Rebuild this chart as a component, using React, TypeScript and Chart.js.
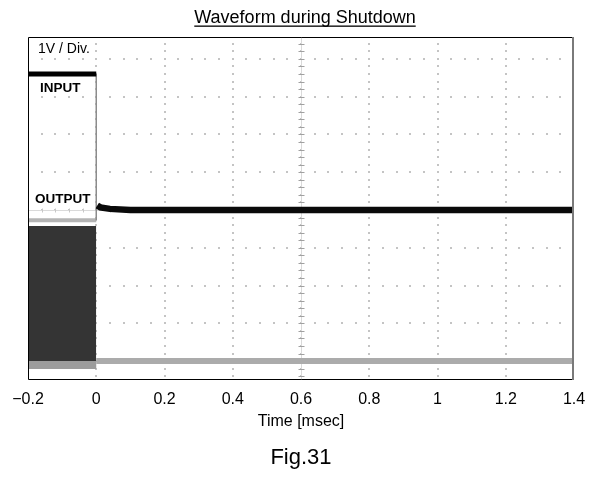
import React, { useEffect, useRef } from 'react';
import { Chart, registerables } from 'chart.js';

Chart.register(...registerables);

const FONT = "'Liberation Sans', Arial, Helvetica, sans-serif";

// Axis ticks (time in msec) and graticule divisions (1 V / div)
const timeTicks = [-0.2, 0, 0.2, 0.4, 0.6, 0.8, 1.0, 1.2, 1.4];
const timeTickLabels = ['−0.2', '0', '0.2', '0.4', '0.6', '0.8', '1', '1.2', '1.4'];
const voltDivs = [0, 1, 2, 3, 4, 5, 6, 7, 8];
const centerTime = 0.6;
const centerVolt = 4;

// INPUT trace
const inputHighTime = [-0.2, 0];
const inputHighVolt = [7.6, 7.6];
const inputEdgeTime = [0, 0];
const inputEdgeVolt = [7.6, 3.72];
const inputLowTime = [0, 1.4];
const inputLowVolt = [0, 0];

// OUTPUT trace
const outputSwitchTime = [-0.2, 0];
const outputSwitchVolt = [3.58, 3.58];
const outputSwitchBase = 0;
const outputPeakTime = [-0.2, 0];
const outputPeakVolt = [3.73, 3.73];
const outputFloorTime = [-0.2, 0];
const outputFloorVolt = [-0.1, -0.1];
const outputAfterTime = [0.003, 0.012, 0.04, 0.1, 1.4];
const outputAfterVolt = [4.12, 4.07, 4.03, 4.0, 4.0];

const pts = (t: number[], v: number[]) => t.map((tt, i) => ({ x: tt, y: v[i] }));

const scopePlugin = {
  id: 'scope',
  beforeDatasetsDraw(chart: any) {
    const { ctx, chartArea: a, scales } = chart;
    const x = scales.x;
    const y = scales.y;
    ctx.save();
    const yMinor: number[] = [];
    for (let k = -5; k <= 45; k++) {
      const p = y.getPixelForValue(k * 0.2);
      if (p > a.top + 1 && p < a.bottom - 1) yMinor.push(p);
    }
    const xMinor: number[] = [];
    for (let k = -5; k <= 35; k++) {
      const p = x.getPixelForValue(k * 0.04);
      if (p > a.left + 1 && p < a.right - 1) xMinor.push(p);
    }
    ctx.fillStyle = '#c4c4c4';
    timeTicks.forEach((t) => {
      const px = Math.round(x.getPixelForValue(t));
      if (px <= a.left + 1 || px >= a.right - 1) return;
      yMinor.forEach((py) => ctx.fillRect(px - 1, Math.round(py) - 1, 2, 2));
    });
    voltDivs.forEach((v) => {
      const py = Math.round(y.getPixelForValue(v));
      xMinor.forEach((px) => ctx.fillRect(Math.round(px) - 1, py - 1, 2, 2));
    });
    // center graticule lines with tick marks
    const cx = Math.round(x.getPixelForValue(centerTime)) + 0.5;
    const cy = Math.round(y.getPixelForValue(centerVolt)) + 0.5;
    ctx.strokeStyle = '#dadada';
    ctx.lineWidth = 1;
    ctx.beginPath();
    ctx.moveTo(cx, a.top);
    ctx.lineTo(cx, a.bottom);
    ctx.moveTo(a.left, cy);
    ctx.lineTo(a.right, cy);
    ctx.stroke();
    ctx.strokeStyle = '#a0a0a0';
    ctx.beginPath();
    yMinor.forEach((py) => {
      const yy = Math.round(py) + 0.5;
      ctx.moveTo(cx - 3, yy);
      ctx.lineTo(cx + 3, yy);
    });
    ctx.stroke();
    ctx.strokeStyle = '#c8c8c8';
    ctx.beginPath();
    xMinor.forEach((px) => {
      const xx = Math.round(px) + 0.5;
      ctx.moveTo(xx, cy - 2);
      ctx.lineTo(xx, cy + 2);
    });
    ctx.stroke();
    ctx.restore();
  },
  afterDatasetsDraw(chart: any) {
    const { ctx, chartArea: a } = chart;
    ctx.save();
    // frame
    ctx.strokeStyle = '#000';
    ctx.lineWidth = 1;
    ctx.beginPath();
    ctx.moveTo(a.right, a.top + 0.5);
    ctx.lineTo(a.left + 0.5, a.top + 0.5);
    ctx.lineTo(a.left + 0.5, a.bottom - 0.5);
    ctx.lineTo(a.right, a.bottom - 0.5);
    ctx.stroke();
    ctx.strokeStyle = '#7a7a7a';
    ctx.lineWidth = 2;
    ctx.beginPath();
    ctx.moveTo(a.right - 1, a.top);
    ctx.lineTo(a.right - 1, a.bottom);
    ctx.stroke();
    // annotations
    ctx.fillStyle = '#000';
    ctx.textAlign = 'left';
    ctx.textBaseline = 'alphabetic';
    ctx.font = `14px ${FONT}`;
    ctx.fillText('1V / Div.', a.left + 10, 53);
    ctx.font = `bold 13.5px ${FONT}`;
    ctx.fillText('INPUT', a.left + 12, 92);
    ctx.fillText('OUTPUT', a.left + 7, 203);
    ctx.restore();
  },
  afterDraw(chart: any) {
    const { ctx, chartArea: a } = chart;
    ctx.save();
    ctx.fillStyle = '#000';
    ctx.textAlign = 'center';
    ctx.textBaseline = 'alphabetic';
    const cx = (a.left + a.right) / 2;
    const title = 'Waveform during Shutdown';
    ctx.font = `18px ${FONT}`;
    const tx = cx + 4;
    ctx.fillText(title, tx, 22.5);
    const w = ctx.measureText(title).width;
    ctx.fillRect(tx - w / 2, 25.5, w, 1.3);
    ctx.font = `22px ${FONT}`;
    ctx.fillText('Fig.31', cx, 464);
    ctx.restore();
  },
};

export default function App() {
  const ref = useRef<HTMLCanvasElement | null>(null);
  useEffect(() => {
    if (!ref.current) return;
    const base = { pointRadius: 0, tension: 0, borderCapStyle: 'butt', fill: false };
    const chart = new Chart(ref.current, {
      type: 'line',
      data: {
        datasets: [
          { ...base, label: 'INPUT', data: pts(inputHighTime, inputHighVolt), borderColor: '#000', borderWidth: 5 },
          { ...base, label: 'OUTPUT', data: pts(outputAfterTime, outputAfterVolt), borderColor: '#0a0a0a', borderWidth: 6.5 },
          { ...base, label: 'INPUT edge', data: pts(inputEdgeTime, inputEdgeVolt), borderColor: '#8c8c8c', borderWidth: 1.5 },
          { ...base, label: 'OUTPUT peak', data: pts(outputPeakTime, outputPeakVolt), borderColor: '#b4b4b4', borderWidth: 4 },
          { ...base, label: 'OUTPUT floor', data: pts(outputFloorTime, outputFloorVolt), borderColor: '#9c9c9c', borderWidth: 8 },
          { ...base, label: 'INPUT low', data: pts(inputLowTime, inputLowVolt), borderColor: '#ababab', borderWidth: 6 },
          {
            ...base,
            label: 'OUTPUT switching',
            data: pts(outputSwitchTime, outputSwitchVolt),
            borderColor: '#333',
            borderWidth: 0,
            backgroundColor: '#343434',
            fill: { value: outputSwitchBase },
          },
        ],
      } as any,
      options: {
        animation: false,
        responsive: true,
        maintainAspectRatio: false,
        layout: { padding: { left: 28, right: 18, top: 37, bottom: 0 } },
        plugins: {
          legend: { display: false },
          tooltip: { enabled: false },
          title: { display: false },
        },
        scales: {
          x: {
            type: 'linear',
            min: -0.2,
            max: 1.4,
            grid: { display: false, drawTicks: false },
            border: { display: false },
            afterBuildTicks: (s: any) => {
              s.ticks = timeTicks.map((v) => ({ value: v }));
            },
            afterFit: (s: any) => {
              s.height = 100;
              s.paddingLeft = 0;
              s.paddingRight = 0;
            },
            ticks: {
              autoSkip: false,
              maxRotation: 0,
              padding: 10,
              color: '#000',
              font: { family: FONT, size: 16 },
              callback: (_v: any, i: number) => timeTickLabels[i],
            },
            title: {
              display: true,
              text: 'Time [msec]',
              color: '#000',
              font: { family: FONT, size: 16 },
              padding: { top: 0, bottom: 49 },
            },
          },
          y: { type: 'linear', min: -0.5, max: 8.58, display: false },
        },
      } as any,
      plugins: [scopePlugin],
    });
    return () => chart.destroy();
  }, []);
  return (
    <div style={{ position: 'absolute', left: 0, top: 0, width: 592, height: 480, background: '#fff' }}>
      <canvas ref={ref} />
    </div>
  );
}
